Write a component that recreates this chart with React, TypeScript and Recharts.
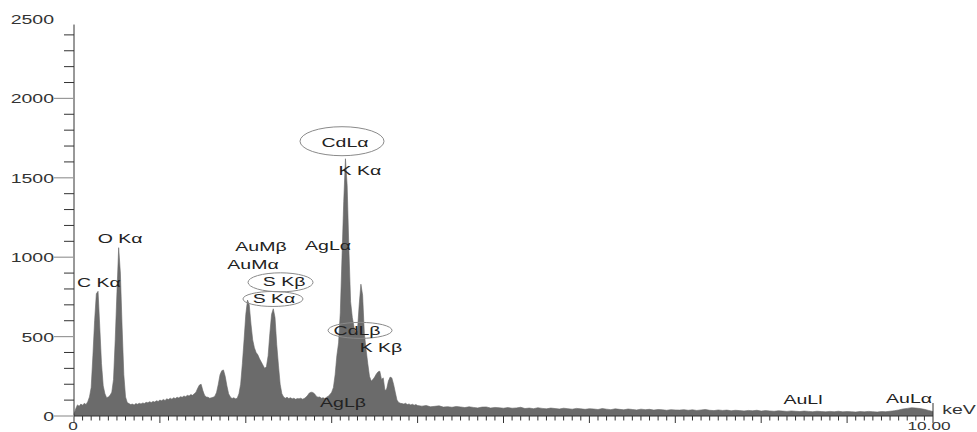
import React from "react";
import {
  AreaChart,
  Area,
  XAxis,
  YAxis,
  ReferenceDot,
  ReferenceLine,
} from "recharts";

document.body.style.margin = "0";

// counts per channel, 0.00 - 4.00 keV, one reading every 0.02 keV
const lowCounts = [
  10, 45, 70, 62, 75, 68, 80, 72, 90, 120,
  180, 380, 600, 770, 785, 560, 330, 190, 140, 115,
  120, 130, 150, 230, 480, 780, 1060, 900, 560, 260,
  120, 85, 78, 72, 75, 70, 78, 74, 80, 76,
  82, 79, 86, 83, 90, 85, 92, 88, 96, 92,
  100, 96, 104, 98, 108, 104, 112, 106, 115, 110,
  118, 114, 122, 118, 126, 122, 130, 126, 135, 130,
  140, 150, 175, 195, 200, 160, 130, 120, 118, 112,
  115, 118, 125, 150, 200, 260, 285, 290, 250, 190,
  140, 120, 110, 115, 108, 112, 140, 200, 330, 480,
  640, 730, 700, 580, 480, 430, 400, 385, 360, 340,
  320, 300, 310, 380, 520, 640, 675, 620, 450, 320,
  200, 140, 120, 112, 118, 110, 115, 108, 112, 105,
  110, 108, 112, 106, 110, 118, 130, 145, 150, 148,
  140, 125, 118, 120, 112, 115, 110, 118, 125, 135,
  150, 180, 260, 380, 460, 650, 1000, 1350, 1620, 1450,
  1050, 720, 620, 560, 520, 540, 700, 830, 760, 520,
  420, 330, 250, 220, 230, 245, 265, 278, 282, 230,
  240, 160, 170, 220, 245, 240, 200, 150, 100, 85,
  80, 78, 75, 80, 72, 76, 70, 74, 68, 72,
  66,
];

// counts per channel, 4.05 - 10.00 keV, one reading every 0.05 keV
const tailCounts = [
  62, 66, 58, 61, 64, 56, 59, 55, 60, 57, 53, 58, 54, 51, 56, 57, 50, 54, 52, 49,
  53, 49, 51, 55, 47, 50, 46, 52, 48, 45, 50, 47, 44, 49, 46, 43, 48, 45, 42, 46,
  44, 41, 47, 43, 40, 45, 42, 39, 44, 41, 38, 43, 40, 42, 37, 41, 39, 36, 40, 38,
  37, 40, 36, 39, 35, 38, 41, 36, 34, 38, 35, 37, 33, 36, 34, 32, 35, 33, 36, 31,
  34, 32, 30, 33, 31, 29, 32, 30, 28, 31, 29, 27, 30, 28, 26, 29, 27, 30, 26, 28,
  27, 25, 28, 26, 29, 27, 25, 28, 27, 30, 33, 38, 44, 48, 52, 50, 47, 42, 35, 28,
];

const yTicks = Array.from({ length: 26 }, (_, i) => i * 100);
const xTicks = Array.from({ length: 101 }, (_, i) => +(i / 10).toFixed(1));

// peak labels, anchored in data units (keV, counts)
const peakLabels = [
  { text: "C Kα", keV: 0.29, counts: 838 },
  { text: "O Kα", keV: 0.536, counts: 1116 },
  { text: "AuMβ", keV: 2.177, counts: 1065 },
  { text: "AuMα", keV: 2.084, counts: 952 },
  { text: "S Kβ", keV: 2.445, counts: 845 },
  { text: "S Kα", keV: 2.328, counts: 737 },
  { text: "AgLα", keV: 2.957, counts: 1072 },
  { text: "CdLα", keV: 3.155, counts: 1721 },
  { text: "K Kα", keV: 3.329, counts: 1544 },
  { text: "CdLβ", keV: 3.295, counts: 536 },
  { text: "K Kβ", keV: 3.574, counts: 429 },
  { text: "AgLβ", keV: 3.132, counts: 82 },
  { text: "AuLl", keV: 8.487, counts: 101 },
  { text: "AuLα", keV: 9.721, counts: 113 },
];

// circled labels: ring offset & radii in px
const rings: Record<string, { dx: number; dy: number; rx: number; ry: number }> = {
  "S Kβ": { dx: -3.5, dy: 0.5, rx: 32.5, ry: 9.5 },
  "S Kα": { dx: -1, dy: 0, rx: 30, ry: 7.5 },
  "CdLα": { dx: -3, dy: -1.5, rx: 42, ry: 14.5 },
  "CdLβ": { dx: 3, dy: -0.5, rx: 32, ry: 8 },
};

const spectrum = [
  ...lowCounts.map((c, i) => ({ keV: +(i * 0.02).toFixed(2), counts: c })),
  ...tailCounts.map((c, i) => ({ keV: +(4.05 + i * 0.05).toFixed(2), counts: c })),
];

const FONT = "'Liberation Sans', Arial, sans-serif";
const STRETCH = 1.5;

const WideText = ({ x, y, anchor, children, fill = "#222", size = 13 }: any) => (
  <text
    transform={`translate(${x},${y}) scale(${STRETCH},1)`}
    textAnchor={anchor}
    fontFamily={FONT}
    fontSize={size}
    fill={fill}
  >
    {children}
  </text>
);

const YTick = ({ x, y, payload }: any) => {
  const v = payload.value;
  if (v === 2500) {
    return <WideText x={x - 20} y={y + 5} anchor="end" fill="#333">{v}</WideText>;
  }
  if (v % 500 === 0) {
    return (
      <g>
        <line x1={x - 20} x2={x} y1={y} y2={y} stroke="#999" strokeWidth={1.2} />
        <WideText x={x - 20} y={y + 5} anchor="end" fill="#333">{v}</WideText>
      </g>
    );
  }
  return <line x1={x - 10} x2={x} y1={y} y2={y} stroke="#333" strokeWidth={1} />;
};

const XTick = ({ x, y, payload }: any) => {
  const v = payload.value;
  const major = Number.isInteger(v);
  return (
    <g>
      <line x1={x} x2={x} y1={y} y2={y + (major ? 7 : 4.5)} stroke="#333" strokeWidth={1} />
      {v === 0 && <WideText x={x - 1} y={y + 13.5} anchor="middle" fill="#333" size={11.5}>0</WideText>}
      {v === 10 && (
        <g>
          <line x1={x} x2={x} y1={y} y2={y - 13} stroke="#333" strokeWidth={1} />
          <WideText x={x - 4} y={y + 13.5} anchor="middle" fill="#333" size={11.5}>10.00</WideText>
          <WideText x={x + 26} y={y - 2.5} anchor="middle" fill="#333">keV</WideText>
        </g>
      )}
    </g>
  );
};

const PeakLabel = ({ cx, cy, text }: any) => {
  const ring = rings[text];
  return (
    <g>
      {ring && (
        <ellipse
          cx={cx + ring.dx}
          cy={cy + ring.dy}
          rx={ring.rx}
          ry={ring.ry}
          fill="none"
          stroke="#8a8a8a"
          strokeWidth={1}
        />
      )}
      <WideText x={cx} y={cy + 4.5} anchor="middle">{text}</WideText>
    </g>
  );
};

export default function App() {
  return (
    <div style={{ width: 977, height: 432, background: "#fff" }}>
      <AreaChart
        width={977}
        height={432}
        data={spectrum}
        margin={{ top: 19, right: 44, bottom: 0, left: 0 }}
      >
        <XAxis
          type="number"
          dataKey="keV"
          domain={[0, 10]}
          ticks={xTicks}
          interval={0}
          height={16}
          tickLine={false}
          tickSize={0}
          tickMargin={0}
          axisLine={{ stroke: "#333", strokeWidth: 1 }}
          tick={<XTick />}
        />
        <YAxis
          type="number"
          domain={[0, 2500]}
          ticks={yTicks}
          interval={0}
          width={74}
          tickLine={false}
          tickSize={0}
          tickMargin={0}
          axisLine={false}
          tick={<YTick />}
        />
        <Area
          type="linear"
          dataKey="counts"
          stroke="#666"
          strokeWidth={0.6}
          fill="#6b6b6b"
          fillOpacity={1}
          dot={false}
          activeDot={false}
          isAnimationActive={false}
        />
        <ReferenceLine
          segment={[{ x: 0, y: 0 }, { x: 0, y: 2465 }]}
          stroke="#333"
          strokeWidth={1}
          ifOverflow="visible"
        />
        {peakLabels.map((p) => (
          <ReferenceDot
            key={p.text}
            x={p.keV}
            y={p.counts}
            r={0}
            ifOverflow="visible"
            shape={(props: any) => <PeakLabel cx={props.cx} cy={props.cy} text={p.text} />}
          />
        ))}
      </AreaChart>
    </div>
  );
}
